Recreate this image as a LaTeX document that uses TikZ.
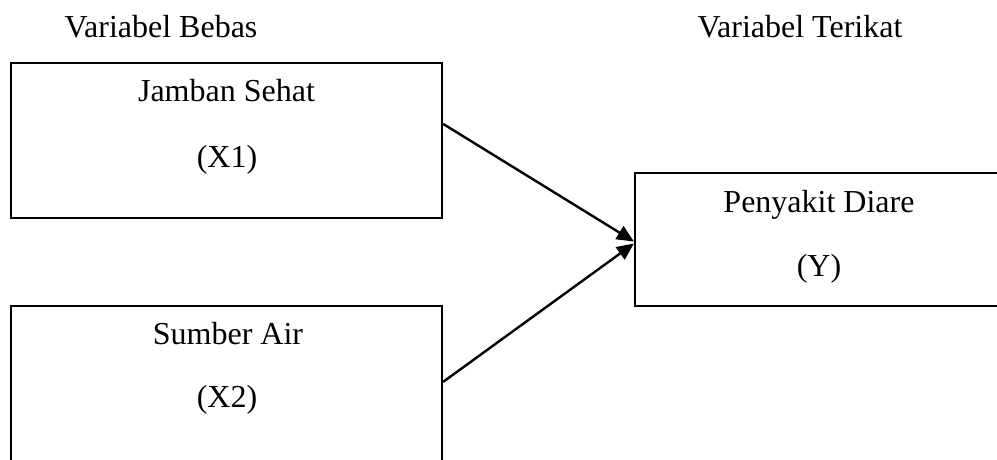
\documentclass[tikz,border=0pt]{standalone}
\usepackage{fontspec}
\setmainfont{Liberation Serif}
\usetikzlibrary{arrows.meta,calc}
\begin{document}
\begin{tikzpicture}[x=1pt,y=1pt,
  box/.style={draw=black,line width=2.2pt,rectangle,inner sep=0pt,fill=none},
  lbl/.style={anchor=base,inner sep=0pt,font=\fontsize{32}{38}\selectfont},
  conn/.style={line width=2.4pt,-{Triangle[length=17pt,width=15pt]}}]
\clip (0,0) rectangle (997,460);
\node[box,minimum width=431pt,minimum height=155pt] (b1) at (226.5,319.5) {};
\node[box,minimum width=431pt,minimum height=170pt] (b2) at (226.5,69) {};
\node[box,minimum width=378pt,minimum height=133pt] (b3) at (824,220.5) {};
\node[lbl] (t1) at (161,422) {Variabel Bebas};
\node[lbl] (t2) at (800,422) {Variabel Terikat};
\node[lbl] (a1) at (226.5,358) {Jamban Sehat};
\node[lbl] (a2) at (227,292) {(X1)};
\node[lbl] (c1) at (819,247) {Penyakit Diare};
\node[lbl] (c2) at (819,183) {(Y)};
\node[lbl] (s1) at (228,115) {Sumber Air};
\node[lbl] (s2) at (227,52) {(X2)};
\coordinate (p1) at ($(b1.north east)+(0,-62)$);
\coordinate (p2) at ($(b2.north east)+(0,-77)$);
\coordinate (q1) at ($(b3.west)+(0,-2)$);
\coordinate (q2) at ($(b3.west)+(0,-4)$);
\draw[conn] (p1) -- (q1);
\draw[conn] (p2) -- (q2);
\end{tikzpicture}
\end{document}
